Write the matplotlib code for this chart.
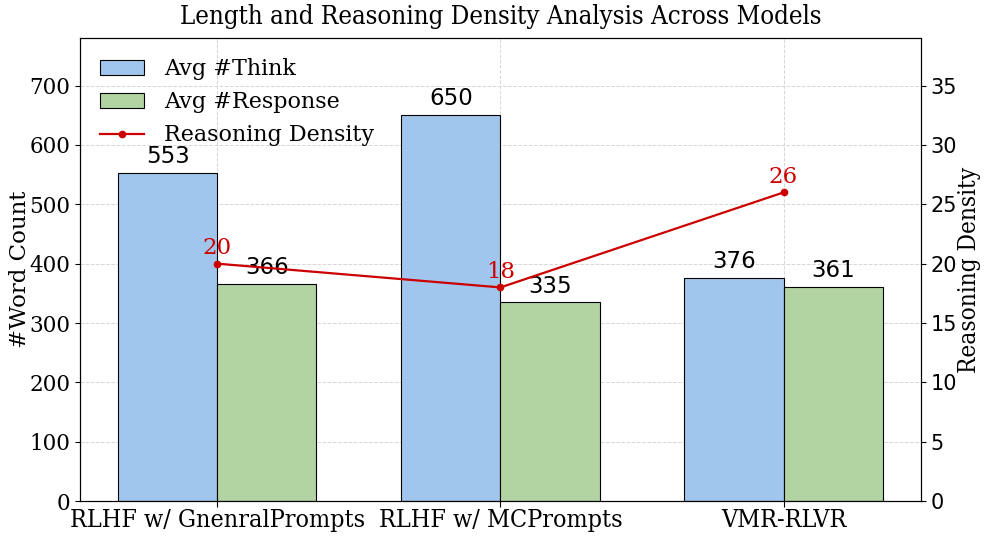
import matplotlib
matplotlib.use("Agg")
import matplotlib.pyplot as plt
import numpy as np

models = ["RLHF w/ GnenralPrompts", "RLHF w/ MCPrompts", "VMR-RLVR"]
avg_think = [553, 650, 376]
avg_response = [366, 335, 361]
reasoning_density = [20, 18, 26]

fig = plt.figure(figsize=(9.87, 5.36), dpi=100)
ax1 = fig.add_axes([0.081, 0.065, 0.852, 0.864])
x = np.arange(len(models))
w = 0.35

serif = "DejaVu Serif"
sans = "DejaVu Sans"

b1 = ax1.bar(x - w/2, avg_think, w, color="#a1c6ee", edgecolor="black", linewidth=0.8, label="Avg #Think", zorder=2)
b2 = ax1.bar(x + w/2, avg_response, w, color="#b2d4a3", edgecolor="black", linewidth=0.8, label="Avg #Response", zorder=2)
for bars in (b1, b2):
    for r in bars:
        ax1.text(r.get_x() + r.get_width()/2, r.get_height() + 8, f"{int(r.get_height())}",
                 ha="center", va="bottom", fontsize=16.5, family=sans, zorder=5)

ax1.set_ylim(0, max(avg_think) * 1.2)
ax1.set_ylabel("#Word Count", fontsize=16.5, family=serif, labelpad=-1)
ax1.set_xticks(x)
ax1.set_xticklabels(models, fontsize=18, family=serif, fontstretch="condensed")
for t in ax1.get_yticklabels():
    t.set_family(serif)
    t.set_fontsize(15.5)
ax1.tick_params(axis="x", length=4, pad=2)
ax1.grid(True, linestyle="--", color="#cccccc", linewidth=0.7, alpha=0.8, zorder=0)
ax1.set_axisbelow(True)

ax2 = ax1.twinx()
ln, = ax2.plot(x, reasoning_density, color="#cc0000", marker="o", markersize=4.5, linewidth=1.6, label="Reasoning Density")
for xi, v in zip(x, reasoning_density):
    ax2.text(xi, v + 0.4, f"{v}", color="#cc0000", ha="center", va="bottom", fontsize=16.5, family=serif)
ax2.set_ylim(0, max(reasoning_density) * 1.5)
ax2.set_ylabel("Reasoning Density", fontsize=17.5, family=serif, fontstretch="condensed", labelpad=1)
for t in ax2.get_yticklabels():
    t.set_family(sans)
    t.set_fontsize(15)

h1, l1 = ax1.get_legend_handles_labels()
ax1.legend(h1 + [ln], l1 + ["Reasoning Density"], loc="upper left", frameon=False,
           prop={"family": serif, "size": 16}, handlelength=2.0, labelspacing=0.5,
           borderaxespad=0.5, handletextpad=0.9)

ax1.set_title("Length and Reasoning Density Analysis Across Models", fontsize=18.5, family=serif,
              fontstretch="condensed", pad=10)

fig.savefig("out.png", dpi=100)
